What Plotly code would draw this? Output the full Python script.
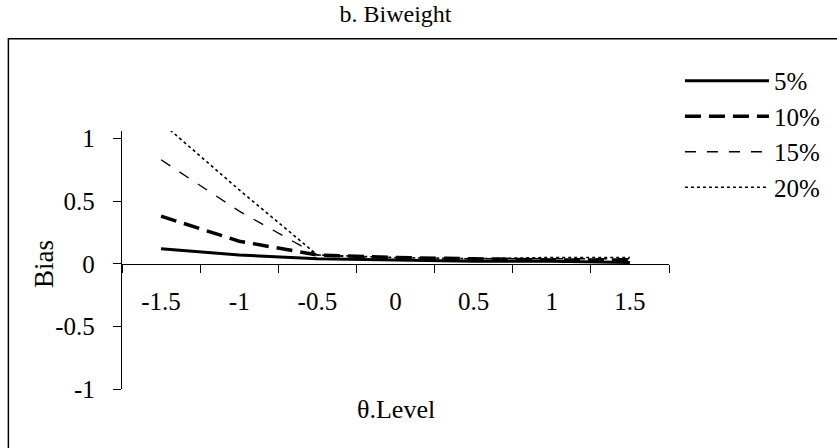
import plotly.graph_objects as go

# Bias of the biweight estimator by theta level, one series per contamination rate
theta_levels = ["-1.5", "-1", "-0.5", "0", "0.5", "1", "1.5"]
bias_5 = [0.12, 0.07, 0.04, 0.03, 0.02, 0.02, 0.01]
bias_10 = [0.38, 0.18, 0.07, 0.05, 0.04, 0.03, 0.03]
bias_15 = [0.83, 0.42, 0.07, 0.04, 0.04, 0.04, 0.04]
bias_20 = [1.13, 0.59, 0.07, 0.05, 0.04, 0.05, 0.05]
series_names = ["5%", "10%", "15%", "20%"]

y_ticks = [-1, -0.5, 0, 0.5, 1]
y_tick_text = ["-1", "-0.5", "0", "0.5", "1"]
y_range = [-1, 1.06]

FONT = "Liberation Serif"

styles = [
    dict(width=3, dash="solid"),
    dict(width=3.5, dash="16px,8px"),
    dict(width=1.3, dash="11px,11px"),
    dict(width=1.6, dash="dot"),
]

fig = go.Figure()
for name, vals, st in zip(series_names, [bias_5, bias_10, bias_15, bias_20], styles):
    fig.add_trace(go.Scatter(
        x=theta_levels, y=vals, name=name, mode="lines",
        line=dict(color="black", width=st["width"], dash=st["dash"]),
    ))

# the x axis crosses the y axis at zero
zero_pos = (0 - y_range[0]) / (y_range[1] - y_range[0])

fig.update_layout(
    width=837, height=448,
    margin=dict(l=122, r=166, t=131, b=59),
    paper_bgcolor="white", plot_bgcolor="white",
    font=dict(family=FONT, color="black", size=25),
    title=dict(text="b. Biweight", x=0.5, xref="paper", xanchor="center",
               y=1 - 14 / 448, yanchor="middle", yref="container",
               font=dict(family=FONT, size=24, color="black")),
    showlegend=True,
    legend=dict(x=1.02, xanchor="left", y=1.283, yanchor="top",
                itemwidth=84, traceorder="normal",
                font=dict(family=FONT, size=25, color="black"),
                bgcolor="rgba(0,0,0,0)"),
    xaxis=dict(
        type="category", range=[-0.5, 6.5],
        anchor="free", position=zero_pos,
        showline=True, linecolor="black", linewidth=1.3,
        ticks="outside", ticklen=8, tickcolor="black", tickwidth=1.3,
        tickson="boundaries", ticklabelstandoff=15,
        showgrid=False, zeroline=False,
        tickfont=dict(family=FONT, size=25, color="black"),
    ),
    yaxis=dict(
        range=y_range, domain=[0, 1],
        tickvals=y_ticks, ticktext=y_tick_text,
        showline=True, linecolor="black", linewidth=1.3,
        ticks="outside", ticklen=8, tickcolor="black", tickwidth=1.3,
        ticklabelstandoff=13,
        showgrid=False, zeroline=False,
        tickfont=dict(family=FONT, size=25, color="black"),
    ),
    # second copy of the y axis draws the inner half of the crossing ticks
    yaxis2=dict(
        range=y_range, overlaying="y", side="left", anchor="x",
        tickvals=y_ticks, showticklabels=False,
        ticks="inside", ticklen=8, tickcolor="black", tickwidth=1.3,
        showline=False, showgrid=False, zeroline=False,
    ),
)

# axis titles
fig.add_annotation(text="Bias", xref="paper", yref="y",
                   x=(43 - 122) / 549, y=0, xanchor="center", yanchor="middle",
                   textangle=-90, showarrow=False,
                   font=dict(family=FONT, size=27, color="black"))
fig.add_annotation(text="θ.Level", xref="paper", yref="paper",
                   x=0.5, y=-0.081, xanchor="center", yanchor="middle",
                   showarrow=False, font=dict(family=FONT, size=26, color="black"))

# outer frame of the chart
fig.add_shape(type="rect", xref="paper", yref="paper",
              x0=-0.2077, x1=1.5, y0=-0.5, y1=1.358,
              line=dict(color="black", width=1.5), layer="below")

fig.write_html("out.html")
